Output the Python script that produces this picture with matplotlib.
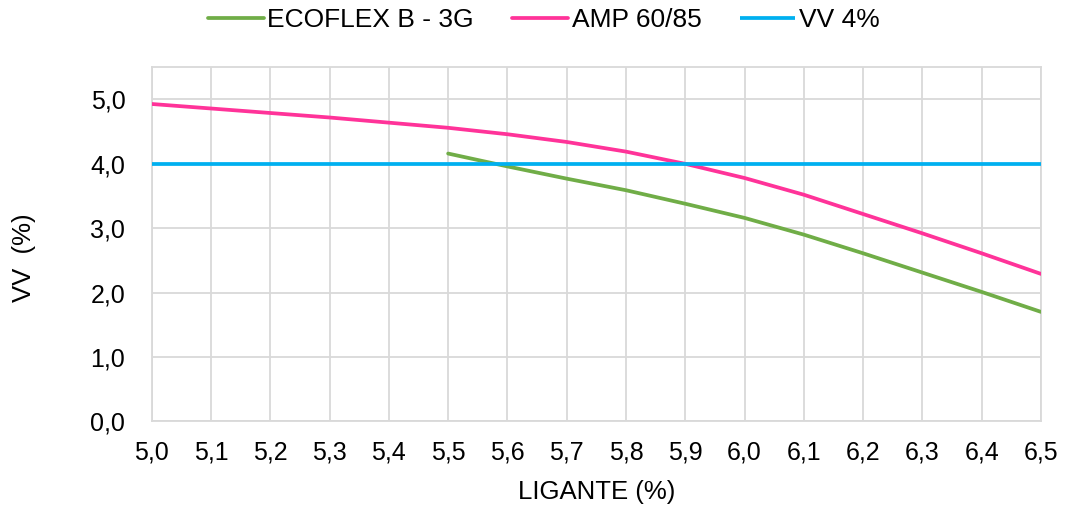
import matplotlib
matplotlib.use("Agg")
import matplotlib.pyplot as plt
from matplotlib.ticker import MultipleLocator, FuncFormatter

plt.rcParams['font.family'] = ['Liberation Sans', 'DejaVu Sans']

# Binder content (%)
ligante = [5.0, 5.1, 5.2, 5.3, 5.4, 5.5, 5.6, 5.7, 5.8, 5.9, 6.0, 6.1, 6.2, 6.3, 6.4, 6.5]
# Air voids (%) per binder
amp_6085 = [4.93, 4.86, 4.79, 4.72, 4.64, 4.56, 4.46, 4.34, 4.19, 4.00,
            3.78, 3.52, 3.22, 2.92, 2.61, 2.29]
ecoflex_x = [5.5, 5.6, 5.7, 5.8, 5.9, 6.0, 6.1, 6.2, 6.3, 6.4, 6.5]
ecoflex_b3g = [4.16, 3.96, 3.77, 3.59, 3.38, 3.16, 2.90, 2.61, 2.31, 2.01, 1.70]
vv_target = 4.0

labels = ["ECOFLEX B - 3G", "AMP 60/85", "VV 4%"]
colors = ["#70ad47", "#ff3399", "#00b0f0"]

W, H = 1065, 507
fig = plt.figure(figsize=(W / 100, H / 100), dpi=100)
ax = fig.add_axes([151.7 / W, 1 - 421.3 / H, (1041 - 151.7) / W, (421.3 - 67.3) / H])

lw = 2.7
ax.plot(ecoflex_x, ecoflex_b3g, color=colors[0], lw=lw, label=labels[0],
        solid_capstyle='round', solid_joinstyle='round', zorder=3)
ax.plot(ligante, amp_6085, color=colors[1], lw=lw, label=labels[1],
        solid_capstyle='round', solid_joinstyle='round', zorder=3)
ax.plot([ligante[0], ligante[-1]], [vv_target, vv_target], color=colors[2], lw=lw,
        label=labels[2], solid_capstyle='butt', zorder=3)

ax.set_xlim(5.0, 6.5)
ax.set_ylim(0, 5.5)
ax.set_xticks(ligante)
ax.yaxis.set_major_locator(MultipleLocator(1.0))
fmt = FuncFormatter(lambda v, p: f"{v:.1f}".replace(".", ","))
ax.xaxis.set_major_formatter(fmt)
ax.yaxis.set_major_formatter(fmt)

ax.grid(True, color="#d9d9d9", lw=1.3, zorder=0)
ax.set_axisbelow(True)
for s in ax.spines.values():
    s.set_color("#d9d9d9")
    s.set_linewidth(1.3)
ax.tick_params(axis='both', length=0, labelsize=18, colors="#000000")
ax.tick_params(axis='x', pad=14)
ax.tick_params(axis='y', pad=19)

fig.text((151.7 + 1041) / 2 / W, 1 - 492 / H, "LIGANTE (%)", ha='center', va='center',
         fontsize=18.5)
fig.text(24 / W, 1 - 258 / H, "VV  (%)", ha='center', va='center', rotation=90,
         fontsize=18.5)

fig.legend(loc='center', bbox_to_anchor=(544 / W, 1 - 20 / H), ncol=3, frameon=False,
           fontsize=19, handlelength=2.1, handletextpad=0.15, columnspacing=1.45,
           borderaxespad=0)

fig.savefig("out.png", dpi=100)
